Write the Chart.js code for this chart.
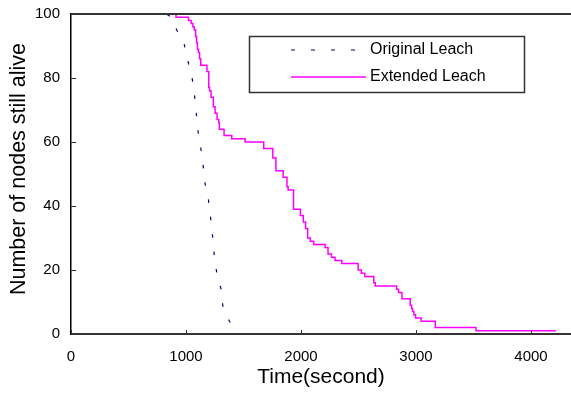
<!DOCTYPE html>
<html>
<head>
<meta charset="utf-8">
<script src="https://cdn.jsdelivr.net/npm/chart.js@4/dist/chart.umd.min.js"></script>
<style>
  html, body { margin: 0; padding: 0; background: #ffffff; }
  #wrap { width: 571px; height: 394px; }
</style>
</head>
<body>
<div id="wrap"><canvas id="c" width="571" height="394"></canvas></div>
<script>
// Nodes still alive over time, original vs extended LEACH
const seriesNames = ['Original Leach', 'Extended Leach'];

const originalTime  = [0, 830, 870, 919, 982, 1011, 1049, 1070, 1087, 1102, 1125, 1148, 1166, 1195, 1215, 1233, 1247, 1268, 1305, 1323, 1378, 1395];
const originalAlive = [100, 100, 99, 95, 91, 86, 81, 76, 70, 64, 59, 53, 47, 42, 36, 30, 24, 19, 14, 8, 4, 3];

const extendedTime  = [0, 913, 1022, 1045, 1060, 1072, 1084, 1092, 1100, 1108, 1118, 1128, 1182, 1198, 1205, 1218, 1238, 1253, 1270, 1285, 1290, 1331, 1398, 1514, 1676, 1755, 1782, 1845, 1878, 1888, 1935, 1995, 2020, 2040, 2058, 2081, 2110, 2210, 2235, 2265, 2296, 2355, 2497, 2525, 2555, 2633, 2646, 2832, 2848, 2878, 2950, 2962, 2970, 2982, 2996, 3045, 3168, 3522, 4217];
const extendedAlive = [100, 99, 98, 97, 96, 95, 93, 91, 89, 88, 86, 84, 82, 77, 76, 74, 71, 69, 67, 66, 64, 62, 61, 60, 58, 55, 51, 49, 46, 45, 39, 37, 35, 33, 30, 29, 28, 27, 25, 24, 23, 22, 20, 19, 18, 16, 15, 14, 13, 11, 9, 8, 7, 6, 5, 4, 2, 1, 1];

const xTickValues = [0, 1000, 2000, 3000, 4000];
const yTickValues = [0, 20, 40, 60, 80, 100];
const xMax = 4348;

const xTitle = 'Time(second)';
const yTitle = 'Number of nodes still alive';

const FONT = '"Liberation Sans", Arial, Helvetica, sans-serif';

function pairs(xs, ys) {
  return xs.map((x, i) => ({ x: x, y: ys[i] }));
}

// inward tick marks, top frame line, y-axis title and the boxed legend
const framePlugin = {
  id: 'frame',
  afterDatasetsDraw(chart) {
    const ctx = chart.ctx;
    const area = chart.chartArea;
    const xs = chart.scales.x;
    const ys = chart.scales.y;
    ctx.save();

    // top frame line
    ctx.strokeStyle = '#333333';
    ctx.lineWidth = 2;
    ctx.beginPath();
    ctx.moveTo(area.left, area.top);
    ctx.lineTo(area.right, area.top);
    ctx.stroke();

    // tick marks pointing into the plot
    ctx.strokeStyle = '#333333';
    ctx.lineWidth = 1;
    ctx.beginPath();
    xTickValues.forEach(v => {
      const px = Math.round(xs.getPixelForValue(v)) + 0.5;
      ctx.moveTo(px, area.bottom);
      ctx.lineTo(px, area.bottom - 4);
    });
    yTickValues.forEach(v => {
      const py = Math.round(ys.getPixelForValue(v)) + 0.5;
      ctx.moveTo(area.left, py);
      ctx.lineTo(area.left + 5, py);
    });
    ctx.stroke();

    // y-axis title, rotated
    ctx.save();
    ctx.translate(19.5, (area.top + area.bottom) / 2 - 5);
    ctx.rotate(-Math.PI / 2);
    ctx.fillStyle = '#000000';
    ctx.font = '21.5px ' + FONT;
    ctx.textAlign = 'center';
    ctx.textBaseline = 'middle';
    ctx.fillText(yTitle, 0, 0);
    ctx.restore();

    // legend box
    const bx = 249.5, by = 36.5, bw = 275, bh = 56;
    ctx.fillStyle = '#ffffff';
    ctx.fillRect(bx, by, bw, bh);
    ctx.strokeStyle = '#333333';
    ctx.lineWidth = 1.5;
    ctx.strokeRect(bx, by, bw, bh);

    const rows = [50, 77];
    chart.data.datasets.forEach((ds, i) => {
      const y = rows[i];
      ctx.save();
      ctx.strokeStyle = ds.borderColor;
      ctx.lineWidth = ds.borderWidth;
      ctx.setLineDash(ds.borderDash ? [4, 16] : []);
      ctx.beginPath();
      ctx.moveTo(291, y);
      ctx.lineTo(366, y);
      ctx.stroke();
      ctx.restore();
      ctx.fillStyle = '#000000';
      ctx.font = '16px ' + FONT;
      ctx.textAlign = 'left';
      ctx.textBaseline = 'middle';
      ctx.fillText(ds.label, 370, y);
    });

    ctx.restore();
  }
};

new Chart(document.getElementById('c'), {
  type: 'line',
  data: {
    datasets: [
      {
        label: seriesNames[0],
        data: pairs(originalTime, originalAlive),
        borderColor: '#000080',
        borderWidth: 1.2,
        borderDash: [3.5, 14],
        borderDashOffset: 9,
        pointRadius: 0,
        fill: false,
        tension: 0,
        order: 2,
        clip: 4
      },
      {
        label: seriesNames[1],
        data: pairs(extendedTime, extendedAlive),
        borderColor: '#ff00ff',
        borderWidth: 1.5,
        stepped: true,
        pointRadius: 0,
        fill: false,
        order: 1,
        clip: 4
      }
    ]
  },
  options: {
    responsive: false,
    animation: false,
    devicePixelRatio: 1,
    layout: { padding: { top: 14, right: 0, bottom: 0, left: 0 } },
    plugins: {
      legend: { display: false },
      tooltip: { enabled: false }
    },
    scales: {
      x: {
        type: 'linear',
        min: 0,
        max: xMax,
        afterFit(scale) {
          scale.height = 60;
          scale.paddingLeft = 0;
          scale.paddingRight = 0;
        },
        afterBuildTicks(scale) { scale.ticks = xTickValues.map(v => ({ value: v })); },
        grid: { display: false, drawTicks: false },
        border: { display: true, color: '#333333', width: 2 },
        ticks: {
          padding: 14,
          color: '#000000',
          font: { family: FONT, size: 15 },
          maxRotation: 0,
          callback: v => String(v)
        },
        title: {
          display: true,
          text: xTitle,
          color: '#000000',
          font: { family: FONT, size: 21 },
          padding: { top: 0, bottom: 4 }
        }
      },
      y: {
        type: 'linear',
        min: 0,
        max: 100,
        afterFit(scale) {
          scale.width = 71;
          scale.paddingTop = 0;
          scale.paddingBottom = 0;
        },
        afterBuildTicks(scale) { scale.ticks = yTickValues.map(v => ({ value: v })); },
        grid: { display: false, drawTicks: false },
        border: { display: true, color: '#000000', width: 1.5 },
        ticks: {
          padding: 11,
          color: '#000000',
          font: { family: FONT, size: 15 },
          callback: v => String(v)
        },
        title: { display: false, text: yTitle }
      }
    }
  },
  plugins: [framePlugin]
});
</script>
</body>
</html>
